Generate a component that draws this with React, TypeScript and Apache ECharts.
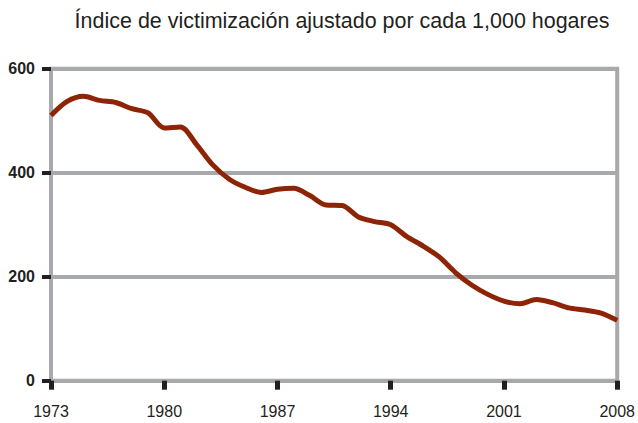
import React, { useEffect, useRef } from "react";
import * as echarts from "echarts";

const titleText = "Índice de victimización ajustado por cada 1,000 hogares";
const years = [
  1973, 1974, 1975, 1976, 1977, 1978, 1979, 1980, 1981, 1982, 1983, 1984,
  1985, 1986, 1987, 1988, 1989, 1990, 1991, 1992, 1993, 1994, 1995, 1996,
  1997, 1998, 1999, 2000, 2001, 2002, 2003, 2004, 2005, 2006, 2007, 2008,
];
const values = [
  510, 537, 547, 539, 535, 523, 515, 486, 488, 454, 415, 388,
  372, 362, 368, 370, 356, 338, 337, 315, 306, 300, 277, 259,
  238, 208, 184, 166, 153, 148, 156, 150, 140, 136, 130, 116,
];
const yTicks = [0, 200, 400, 600];
const xTicks = [1973, 1980, 1987, 1994, 2001, 2008];

const GRAY = "#a7a9ac";
const DARK = "#231f20";
const LINE = "#8e2406";
const SANS = "'Liberation Sans', Arial, sans-serif";

export default function App() {
  const ref = useRef<HTMLDivElement>(null);
  useEffect(() => {
    if (!ref.current) return;
    const chart = echarts.init(ref.current, null, { renderer: "svg" });
    chart.setOption({
      animation: false,
      backgroundColor: "#ffffff",
      graphic: [
        {
          type: "text",
          x: 342,
          y: 20,
          scaleX: 0.955,
          style: {
            text: titleText,
            font: `22.5px ${SANS}`,
            fill: DARK,
            align: "center",
            verticalAlign: "middle",
          },
        },
      ],
      grid: {
        left: 51,
        right: 17.3,
        top: 68.7,
        bottom: 42.3,
        containLabel: false,
        show: true,
        borderColor: GRAY,
        borderWidth: 4,
        backgroundColor: "transparent",
      },
      xAxis: {
        type: "value",
        min: xTicks[0],
        max: xTicks[xTicks.length - 1],
        interval: 7,
        axisLine: { show: true, lineStyle: { color: GRAY, width: 4 } },
        axisTick: { show: true, length: 9, lineStyle: { color: DARK, width: 5 } },
        splitLine: { show: false },
        axisLabel: {
          margin: 23,
          color: DARK,
          fontFamily: SANS,
          fontSize: 16,
          formatter: (v: number) => String(v),
        },
      },
      yAxis: {
        type: "value",
        min: yTicks[0],
        max: yTicks[yTicks.length - 1],
        interval: 200,
        axisLine: { show: true, lineStyle: { color: GRAY, width: 4 } },
        axisTick: { show: true, length: 9, lineStyle: { color: DARK, width: 4 } },
        splitLine: { show: true, lineStyle: { color: GRAY, width: 4 } },
        axisLabel: {
          margin: 16,
          color: DARK,
          fontFamily: SANS,
          fontWeight: "bold",
          fontSize: 16,
        },
      },
      series: [
        {
          type: "line",
          data: years.map((y, i) => [y, values[i]]),
          smooth: 0.3,
          showSymbol: false,
          lineStyle: { color: LINE, width: 5 },
          z: 5,
        },
      ],
    });
    return () => chart.dispose();
  }, []);
  return (
    <div
      ref={ref}
      style={{ position: "fixed", left: 0, top: 0, width: 638, height: 423 }}
    />
  );
}
